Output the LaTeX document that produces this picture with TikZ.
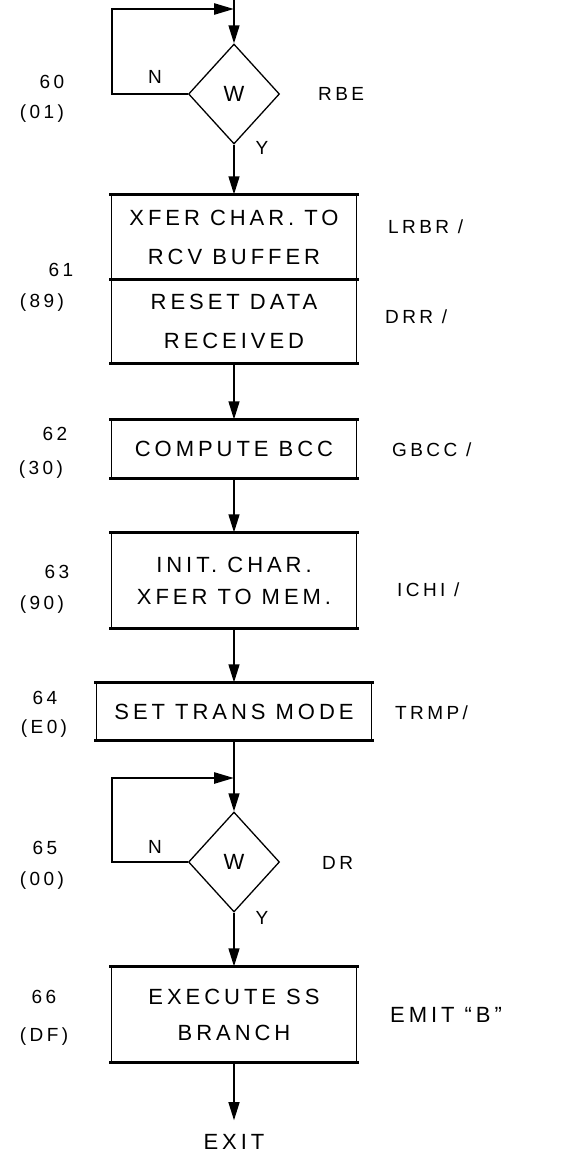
\documentclass[tikz,border=0pt]{standalone}
\usepackage{fontspec}
\usetikzlibrary{shapes.geometric,arrows.meta}
\newfontfamily\hand[LetterSpace=18]{Liberation Sans}
\begin{document}
\begin{tikzpicture}[x=1pt,y=-1pt,
  txt/.style={font=\hand\fontsize{19}{34}\selectfont, inner sep=0pt, align=center},
  bigtxt/.style={font=\hand\fontsize{22}{36}\selectfont, inner sep=0pt, align=center},
  box/.style={draw, line width=1.3pt, inner sep=0pt, bigtxt},
  dia/.style={draw, diamond, line width=1.3pt, minimum width=91pt, minimum height=100pt, inner sep=0pt, bigtxt},
  arr/.style={line width=1.3pt, -{Triangle[length=18pt,width=11pt]}},
  thickedge/.style={line width=2.8pt, line cap=rect},
  loopline/.style={line width=2.6pt, -{Triangle[length=20pt,width=11pt]}},
]
\useasboundingbox (0,0) rectangle (581,1162);
% shapes
\node[dia] (d60) at (234,94) {W};
\node[box, minimum width=245pt, minimum height=84pt] (b61a) at (234,237) {XFER CHAR. TO\\[3pt]RCV BUFFER};
\node[box, minimum width=245pt, minimum height=84pt] (b61b) at (234,321) {RESET DATA\\[3pt]RECEIVED};
\node[box, minimum width=245pt, minimum height=58pt] (b62) at (234,449) {COMPUTE BCC};
\node[box, minimum width=245pt, minimum height=95pt] (b63) at (234,580.5) {INIT. CHAR.\\[-4pt]XFER TO MEM.};
\node[box, minimum width=275pt, minimum height=57pt] (b64) at (234,711.5) {SET TRANS MODE};
\node[dia] (d65) at (234,862) {W};
\node[box, minimum width=245pt, minimum height=95pt] (b66) at (234,1014.5) {EXECUTE SS\\BRANCH};
\node[bigtxt] (exit) at (234,1142) {EXIT};
% thick top/bottom edges
\foreach \b in {b61a,b62,b63,b64,b66}{
  \draw[thickedge] (\b.north west) -- (\b.north east);
}
\foreach \b in {b61a,b61b,b62,b63,b64,b66}{
  \draw[thickedge] (\b.south west) -- (\b.south east);
}
% coordinates
\coordinate (top) at (234,0);
\coordinate (l60) at (112,9);
\coordinate (j60) at (234,9);
\coordinate (l65) at (112,778);
\coordinate (j65) at (234,778);
% connectors
\draw[arr] (top) -- (d60.north);
\draw[loopline] (d60.west) -| (l60) -- (j60);
\draw[arr] (d60.south) -- (b61a.north);
\draw[arr] (b61b.south) -- (b62.north);
\draw[arr] (b62.south) -- (b63.north);
\draw[arr] (b63.south) -- (b64.north);
\draw[arr] (b64.south) -- (d65.north);
\draw[loopline] (d65.west) -| (l65) -- (j65);
\draw[arr] (d65.south) -- (b66.north);
\draw[arr] (b66.south) -- ([yshift=14pt]exit.north);
% branch labels
\node[txt] (n60) at (155,77) {N};
\node[txt] (y60) at (262,148) {Y};
\node[txt] (n65) at (155,847) {N};
\node[txt] (y65) at (262,918) {Y};
% step numbers
\node[txt] (s60) at (52,82) {60};
\node[txt] (h60) at (42,114) {(01)};
\node[txt] (s61) at (61,270) {61};
\node[txt] (h61) at (42,303) {(89)};
\node[txt] (s62) at (55,434) {62};
\node[txt] (h62) at (41,470) {(30)};
\node[txt] (s63) at (57,572) {63};
\node[txt] (h63) at (42,605) {(90)};
\node[txt] (s64) at (45,698) {64};
\node[txt] (h64) at (44,729) {(E0)};
\node[txt] (s65) at (45,848) {65};
\node[txt] (h65) at (42,881) {(00)};
\node[txt] (s66) at (44,997) {66};
\node[txt] (h66) at (44,1037) {(DF)};
% right labels
\node[txt, anchor=west] (r60) at (318,94) {RBE};
\node[txt, anchor=west] (r61a) at (388,227) {LRBR /};
\node[txt, anchor=west] (r61b) at (385,317) {DRR /};
\node[txt, anchor=west] (r62) at (392,450) {GBCC /};
\node[txt, anchor=west] (r63) at (397,590) {ICHI /};
\node[txt, anchor=west] (r64) at (395,713) {TRMP/};
\node[txt, anchor=west] (r65) at (322,863) {DR};
\node[bigtxt, anchor=west] (r66) at (390,1015) {EMIT “B”};
\end{tikzpicture}
\end{document}
